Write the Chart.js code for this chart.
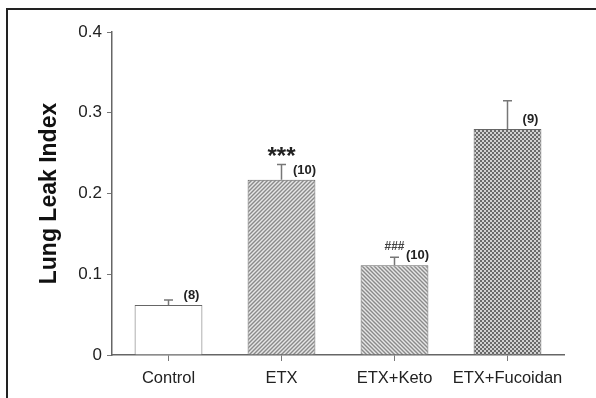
<!DOCTYPE html>
<html>
<head>
<meta charset="utf-8">
<script src="https://cdn.jsdelivr.net/npm/chart.js@4"></script>
<style>
  html, body { margin: 0; padding: 0; background: #fff; }
  #wrap { width: 596px; height: 398px; position: relative; }
</style>
</head>
<body>
<div id="wrap"><canvas id="leakChart"></canvas></div>
<script>
const groups = ['Control', 'ETX', 'ETX+Keto', 'ETX+Fucoidan'];
const leakIndex = [0.062, 0.217, 0.111, 0.280];
const leakSem = [0.006, 0.019, 0.010, 0.035];
const nLabels = ['(8)', '(10)', '(10)', '(9)'];
const sigLabels = ['', '***', '###', ''];
const yTicks = [0, 0.1, 0.2, 0.3, 0.4];

// fill patterns like the old SigmaPlot hatches
function hatch(dir) {
  const c = document.createElement('canvas');
  const s = 4;
  c.width = s; c.height = s;
  const g = c.getContext('2d');
  g.fillStyle = '#e6e6e6';
  g.fillRect(0, 0, s, s);
  g.strokeStyle = '#8a8a8a';
  g.lineWidth = 1.4;
  g.beginPath();
  if (dir === '/') {
    g.moveTo(0, s); g.lineTo(s, 0);
    g.moveTo(-1, 1); g.lineTo(1, -1);
    g.moveTo(s - 1, s + 1); g.lineTo(s + 1, s - 1);
  } else {
    g.moveTo(0, 0); g.lineTo(s, s);
    g.moveTo(-1, s - 1); g.lineTo(1, s + 1);
    g.moveTo(s - 1, -1); g.lineTo(s + 1, 1);
  }
  g.stroke();
  return g.createPattern(c, 'repeat');
}

function checker() {
  const c = document.createElement('canvas');
  c.width = 4; c.height = 4;
  const g = c.getContext('2d');
  g.fillStyle = '#d2d2d2';
  g.fillRect(0, 0, 4, 4);
  g.fillStyle = '#6a6a6a';
  g.fillRect(0, 0, 2, 2);
  g.fillRect(2, 2, 2, 2);
  return g.createPattern(c, 'repeat');
}

const fills = ['#ffffff', hatch('/'), hatch('\\'), checker()];

const extras = {
  id: 'extras',
  beforeDraw(chart) {
    const ctx = chart.ctx;
    ctx.save();
    ctx.fillStyle = '#fff';
    ctx.fillRect(0, 0, chart.width, chart.height);
    ctx.restore();
  },
  afterDatasetsDraw(chart) {
    const ctx = chart.ctx;
    const x = chart.scales.x, y = chart.scales.y;
    ctx.save();
    // error bars (upper only)
    ctx.strokeStyle = '#777';
    ctx.lineWidth = 1.5;
    leakIndex.forEach((v, i) => {
      const px = x.getPixelForValue(i);
      const y0 = y.getPixelForValue(v);
      const y1 = y.getPixelForValue(v + leakSem[i]);
      ctx.beginPath();
      ctx.moveTo(px, y0); ctx.lineTo(px, y1);
      ctx.moveTo(px - 4.5, y1); ctx.lineTo(px + 4.5, y1);
      ctx.stroke();
    });
    // n labels and significance marks
    ctx.fillStyle = '#222';
    ctx.textAlign = 'center';
    ctx.textBaseline = 'middle';
    leakIndex.forEach((v, i) => {
      const px = x.getPixelForValue(i);
      const top = y.getPixelForValue(v);
      const errTop = y.getPixelForValue(v + leakSem[i]);
      ctx.font = 'bold 13px "Liberation Sans", Arial, sans-serif';
      ctx.fillText(nLabels[i], px + 23, top - 9.5);
      if (sigLabels[i] === '***') {
        ctx.font = 'bold 24px "Liberation Sans", Arial, sans-serif';
        ctx.fillText(sigLabels[i], px, errTop - 7);
      } else if (sigLabels[i]) {
        ctx.fillStyle = '#444';
        ctx.font = 'bold 12px "Liberation Sans", Arial, sans-serif';
        ctx.fillText(sigLabels[i], px, errTop - 11);
        ctx.fillStyle = '#222';
      }
    });
    // y title
    ctx.font = 'bold 23px "Liberation Sans", Arial, sans-serif';
    ctx.fillStyle = '#111';
    ctx.translate(50, (chart.chartArea.top + chart.chartArea.bottom) / 2);
    ctx.rotate(-Math.PI / 2);
    ctx.fillText('Lung Leak Index', 0, 0);
    ctx.restore();
    // frame around the figure
    ctx.save();
    ctx.strokeStyle = '#222';
    ctx.lineWidth = 2;
    ctx.beginPath();
    ctx.moveTo(7, chart.height);
    ctx.lineTo(7, 9);
    ctx.lineTo(chart.width, 9);
    ctx.stroke();
    ctx.restore();
  }
};

new Chart(document.getElementById('leakChart'), {
  type: 'bar',
  data: {
    labels: groups,
    datasets: [{
      data: leakIndex,
      backgroundColor: fills,
      borderColor: '#666',
      borderWidth: 1,
      borderSkipped: 'bottom',
      categoryPercentage: 1,
      barPercentage: 0.6
    }]
  },
  options: {
    responsive: true,
    maintainAspectRatio: false,
    animation: false,
    layout: { padding: { top: 32, right: 32, bottom: 0, left: 0 } },
    plugins: { legend: { display: false }, tooltip: { enabled: false } },
    scales: {
      x: {
        afterFit: s => { s.height = 43; },
        grid: { offset: false, drawOnChartArea: false, drawTicks: true, tickLength: 6, color: '#777' },
        border: { color: '#666', width: 1.5 },
        ticks: {
          color: '#222',
          padding: 8,
          autoSkip: false,
          minRotation: 0,
          maxRotation: 0,
          font: { family: '"Liberation Sans", Arial, sans-serif', size: 16.5 }
        }
      },
      y: {
        min: 0,
        max: 0.4,
        afterFit: s => { s.width = 112; },
        afterBuildTicks: s => { s.ticks = yTicks.map(v => ({ value: v })); },
        grid: { drawOnChartArea: false, drawTicks: true, tickLength: 5, color: '#777' },
        border: { color: '#666', width: 1.5 },
        ticks: {
          color: '#222',
          padding: 5,
          font: { family: '"Liberation Sans", Arial, sans-serif', size: 17 },
          callback: v => v === 0 ? '0' : v.toFixed(1)
        }
      }
    }
  },
  plugins: [extras]
});
</script>
</body>
</html>
